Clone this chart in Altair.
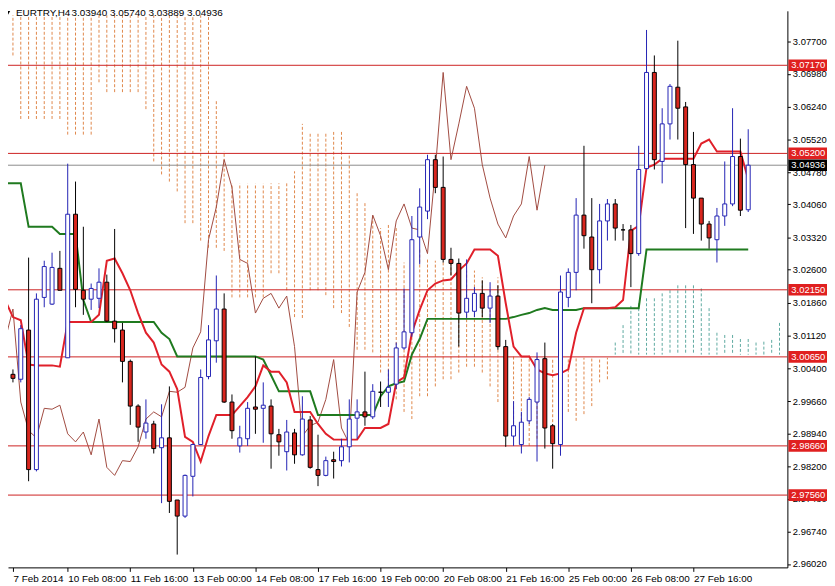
import altair as alt
import pandas as pd
import numpy as np

# ---------------- data (EURTRY H4, bar 0 = 7 Feb 2014) ----------------
opens = [3.0037, 3.0026, 3.0015, 3.0125, 2.9813, 3.0198, 3.0183, 3.0263, 3.0063, 3.0384,
         3.0214, 3.0194, 3.0196, 3.0232, 3.0145, 3.0125, 3.0055, 2.9955, 2.9897, 2.9915,
         2.9862, 2.9884, 2.9745, 2.9709, 2.9798, 2.9869, 3.0021, 3.0101, 3.0172, 2.9964,
         2.9866, 2.9882, 2.9953, 2.9950, 2.9955, 2.9891, 2.9853, 2.9895, 2.9846, 2.9924,
         2.9813, 2.9800, 2.9835, 2.9833, 2.9864, 2.9928, 2.9942, 2.9931, 2.9986, 2.9986,
         3.0004, 3.0085, 3.0119, 3.0333, 3.0391, 3.0506, 3.0444, 3.0283, 3.0274, 3.0165,
         3.0167, 3.0207, 3.0174, 3.0201, 3.0088, 2.9888, 2.9869, 2.9922, 2.9964, 3.0061,
         2.9911, 2.9869, 3.0198, 3.0254, 3.0382, 3.0333, 3.0260, 3.0369, 3.0407, 3.0349,
         3.0349, 3.0296, 3.0486, 3.0701, 3.0502, 3.0586, 3.0668, 3.0624, 3.0495, 3.0420,
         3.0362, 3.0327, 3.0380, 3.0407, 3.0513, 3.03940]
highs = [3.0052, 3.0037, 3.0136, 3.0287, 3.0207, 3.0280, 3.0298, 3.0302, 3.0497, 3.0457,
         3.0356, 3.0229, 3.0263, 3.0249, 3.0351, 3.0141, 3.0059, 2.9959, 2.9970, 2.9922,
         2.9959, 2.9999, 2.9745, 2.9802, 2.9871, 3.0037, 3.0136, 3.0247, 3.0207, 2.9981,
         2.9911, 2.9964, 3.0066, 3.0008, 2.9970, 2.9904, 2.9924, 2.9904, 2.9977, 2.9933,
         2.9891, 2.9842, 2.9853, 2.9882, 2.9970, 2.9970, 3.0032, 3.0004, 3.0010, 3.0037,
         3.0097, 3.0218, 3.0380, 3.0442, 3.0517, 3.0517, 3.0513, 3.0309, 3.0285, 3.0283,
         3.0221, 3.0236, 3.0232, 3.0225, 3.0103, 2.9966, 2.9942, 2.9975, 3.0075, 3.0097,
         2.9915, 3.0247, 3.0263, 3.0420, 3.0537, 3.0420, 3.0407, 3.0418, 3.0418, 3.0362,
         3.0360, 3.0537, 3.0796, 3.0739, 3.0621, 3.0675, 3.0772, 3.0635, 3.0568, 3.0420,
         3.0369, 3.0398, 3.0502, 3.0621, 3.0553, 3.05740]
lows = [2.9988, 3.0008, 3.0008, 2.9787, 2.9809, 3.0176, 3.0181, 3.0214, 3.0063, 3.0176,
        3.0159, 3.0170, 3.0174, 3.0143, 3.0097, 3.0008, 2.9913, 2.9875, 2.9882, 2.9849,
        2.9738, 2.9716, 2.9623, 2.9705, 2.9753, 2.9869, 3.0015, 3.0052, 2.9962, 2.9882,
        2.9851, 2.9866, 2.9893, 2.9873, 2.9815, 2.9844, 2.9811, 2.9826, 2.9844, 2.9815,
        2.9776, 2.9798, 2.9793, 2.9820, 2.9829, 2.9882, 2.9911, 2.9926, 2.9953, 2.9953,
        2.9993, 3.0081, 3.0110, 3.0272, 3.0373, 3.0431, 3.0276, 3.0247, 3.0088, 3.0152,
        3.0154, 3.0154, 3.0141, 3.0081, 2.9864, 2.9866, 2.9849, 2.9915, 2.9831, 2.9860,
        2.9815, 2.9844, 3.0176, 3.0214, 3.0307, 3.0185, 3.0229, 3.0325, 3.0325, 3.0325,
        3.0221, 3.0291, 3.0484, 3.0484, 3.0453, 3.0551, 3.0551, 3.0353, 3.0340, 3.0325,
        3.0307, 3.0276, 3.0358, 3.0402, 3.0380, 3.03889]
closes = [3.0021, 3.0017, 3.0128, 2.9813, 3.0194, 3.0267, 3.0265, 3.0214, 3.0384, 3.0216,
          3.0194, 3.0218, 3.0232, 3.0145, 3.0128, 3.0055, 2.9955, 2.9908, 2.9917, 2.9860,
          2.9884, 2.9742, 2.9709, 2.9800, 2.9869, 3.0019, 3.0103, 3.0172, 2.9964, 2.9900,
          2.9884, 2.9950, 2.9948, 2.9957, 2.9893, 2.9875, 2.9897, 2.9846, 2.9926, 2.9818,
          2.9800, 2.9833, 2.9831, 2.9864, 2.9926, 2.9942, 2.9931, 2.9988, 2.9986, 2.9997,
          3.0085, 3.0121, 3.0327, 3.0400, 3.0506, 3.0444, 3.0283, 3.0274, 3.0163, 3.0196,
          3.0207, 3.0174, 3.0201, 3.0088, 2.9888, 2.9911, 2.9919, 2.9970, 3.0059, 2.9906,
          2.9871, 3.0210, 3.0254, 3.0382, 3.0336, 3.0260, 3.0369, 3.0407, 3.0353, 3.0349,
          3.0296, 3.0484, 3.0701, 3.0506, 3.0586, 3.0670, 3.0621, 3.0495, 3.0420, 3.0362,
          3.0331, 3.0380, 3.0407, 3.0513, 3.0393, 3.04936]

tenkan = [3.0192, 3.0154, 3.0147, 3.0048, 3.0046, 3.0046, 3.0046, 3.0043, 3.0143, 3.0143,
          3.0143, 3.0143, 3.0159, 3.0280, 3.0285, 3.0252, 3.0214, 3.0163, 3.0119, 3.0097,
          3.0048, 3.0032, 2.9993, 2.9886, 2.9875, 2.9831, 2.9888, 2.9935, 2.9935, 2.9935,
          2.9955, 2.9975, 2.9999, 3.0046, 3.0032, 3.0032, 3.0008, 2.9942, 2.9942, 2.9942,
          2.9915, 2.9893, 2.9880, 2.9880, 2.9880, 2.9880, 2.9906, 2.9906, 2.9906, 2.9915,
          3.0008, 3.0019, 3.0119, 3.0170, 3.0214, 3.0229, 3.0236, 3.0238, 3.0258, 3.0274,
          3.0305, 3.0305, 3.0305, 3.0291, 3.0185, 3.0088, 3.0066, 3.0066, 3.0037, 3.0028,
          3.0024, 3.0028, 3.0037, 3.0119, 3.0174, 3.0174, 3.0174, 3.0174, 3.0176, 3.0192,
          3.0347, 3.0358, 3.0488, 3.0495, 3.0508, 3.0508, 3.0508, 3.0508, 3.0508, 3.0542,
          3.0551, 3.0524, 3.0524, 3.0524, 3.0524, 3.0462]
kijun = ([3.0453] * 3 + [3.0356] * 4 + [3.0340] * 3 + [3.0192] + [3.0143] * 9 +
         [3.0119, 3.0105] + [3.0066] * 11 + [3.0059, 3.0024] + [2.9988] * 5 +
         [2.9935] * 8 + [2.9977, 2.9999, 3.0006, 3.0010, 3.0070, 3.0105] + [3.0150] * 11 +
         [3.0154, 3.0159, 3.0163, 3.0170, 3.0174] + [3.0170] * 4 + [3.0174] * 8 + [3.0305] * 14)

span_a = ([3.0739, 3.0739] + [3.0597] * 6 + [3.0562] * 4 + [3.0679] + [3.0657] * 5 +
          [3.0619, 3.0502, 3.0473, 3.0457, 3.0435, 3.0364, 3.0364, 3.0325, 3.0309, 3.0309, 3.0302] +
          [3.0198] * 5 +
          [3.0252, 3.0252, 3.0214, 3.0154, 3.0152, 3.0214, 3.0214, 3.0203, 3.0174, 3.0163,
           3.0132, 3.0081, 3.0081, 3.0075, 3.0030, 2.9999] +
          [2.9970, 2.9942, 2.9926, 2.9977, 2.9977, 2.9999, 3.0015, 3.0015, 3.0030, 3.0043,
           3.0043, 3.0030, 2.9999, 2.9964, 2.9926, 2.9904, 2.9866, 2.9866, 2.9882, 2.9904,
           2.9919, 2.9919, 2.9942, 2.9922, 2.9937, 2.9955, 3.0008, 3.0015] +
          [3.0097, 3.0136, 3.0179, 3.0185, 3.0196, 3.0196, 3.0207, 3.0214, 3.0225, 3.0225,
           3.0225, 3.0218, 3.0174, 3.0119, 3.0114, 3.0114, 3.0105, 3.0105, 3.0097, 3.0099,
           3.0103, 3.0141])
span_b = ([3.0829] * 27 + [3.0639, 3.0524] + [3.0453] * 8 + [3.0480, 3.0586] + [3.0568] * 5 +
          [3.0517, 3.0435, 3.0413, 3.0384, 3.0353, 3.0362, 3.0353, 3.0276, 3.0280, 3.0309,
           3.0287, 3.0280, 3.0280, 3.0280, 3.0265, 3.0258, 3.0258, 3.0243, 3.0221, 3.0243] +
          [3.0068] * 6 + [3.0063] * 8 + [3.0070] * 22)

red_levels = [3.0717, 3.0520, 3.0215, 3.0065, 2.9866, 2.9756]
bid_price = [3.04936]

y_ticks = [3.08440, 3.07700, 3.06980, 3.06240, 3.05520, 3.04780, 3.04060, 3.03320, 3.02600,
           3.01860, 3.01120, 3.00400, 2.99660, 2.98940, 2.98200, 2.97480, 2.96740, 2.96020]
x_tick_bars = [1, 8, 16, 24, 32, 40, 48, 56, 64, 72, 80, 88]
x_tick_text = ["7 Feb 2014", "10 Feb 08:00", "11 Feb 16:00", "13 Feb 00:00", "14 Feb 08:00",
               "17 Feb 16:00", "19 Feb 00:00", "20 Feb 08:00", "21 Feb 16:00", "25 Feb 00:00",
               "26 Feb 08:00", "27 Feb 16:00"]
header_symbol = "EURTRY,H4"
header_ohlc = "3.03940 3.05740 3.03889 3.04936"

# ---------------- frames ----------------
n = len(closes)
bars = pd.DataFrame({"i": range(n), "open": opens, "high": highs, "low": lows, "close": closes})
bars["dir"] = np.where(bars["close"] > bars["open"], "up",
                       np.where(bars["close"] < bars["open"], "down", "flat"))
lines = pd.DataFrame({"i": range(n), "tenkan": tenkan, "kijun": kijun})
chikou = pd.DataFrame({"i": range(n - 26), "chikou": closes[26:]})
cloud = pd.DataFrame({"i": range(len(span_a)), "a": span_a, "b": span_b})
cloud["kind"] = np.where(cloud["b"] > cloud["a"], "bear", "bull")
levels = pd.DataFrame({"price": red_levels})
bid = pd.DataFrame({"price": bid_price})
header = pd.DataFrame({"sym": [header_symbol], "ohlc": [header_ohlc]})

W, H = 787, 562
FONT = "Liberation Sans"
FS = 9.5

label_map = "{" + ",".join(f"'{v}':'{t}'" for v, t in zip(x_tick_bars, x_tick_text)) + "}"
xaxis = alt.Axis(values=x_tick_bars, labelExpr=f"{label_map}[datum.value]", labelAlign="left",
                 labelFont=FONT, labelFontSize=10, labelColor="black",
                 tickColor="black", tickSize=4, domainColor="black", grid=False,
                 labelPadding=2, labelFlush=False, labelOverlap=False, title=None)
yaxis = alt.Axis(orient="right", values=y_ticks, format=".5f", labelFont=FONT, labelFontSize=FS,
                 labelColor="black", tickColor="black", tickSize=3, domainColor="black",
                 grid=False, labelPadding=2, labelFlush=False, labelOverlap=False, title=None)
xscale = alt.Scale(domain=[1, 99.375], nice=False, zero=False)
yscale = alt.Scale(domain=[2.959433, 3.083879], nice=False, zero=False)


def X(f="i"):
    return alt.X(f, type="quantitative", scale=xscale, axis=xaxis)


def Y(f):
    return alt.Y(f, type="quantitative", scale=yscale, axis=yaxis)


cloud_layer = alt.Chart(cloud).mark_rule(strokeWidth=1, strokeDash=[3, 2], clip=True).encode(
    x=X(), y=Y("a"), y2="b",
    color=alt.Color("kind:N", scale=alt.Scale(domain=["bear", "bull"], range=["#E0874A", "#5DA9A0"]),
                    legend=None))

level_layer = alt.Chart(levels).mark_rule(color="#CC2020", strokeWidth=1).encode(
    y=Y("price"), x=alt.value(0), x2=alt.value(W))
bid_layer = alt.Chart(bid).mark_rule(color="#8C8C8C", strokeWidth=1).encode(
    y=Y("price"), x=alt.value(0), x2=alt.value(W))

chikou_layer = alt.Chart(chikou).mark_line(color="#A04A40", strokeWidth=1, clip=True).encode(
    x=X(), y=Y("chikou"))
kijun_layer = alt.Chart(lines).mark_line(color="#1F7A1F", strokeWidth=2, clip=True).encode(
    x=X(), y=Y("kijun"))
tenkan_layer = alt.Chart(lines).mark_line(color="#E0202A", strokeWidth=2, clip=True).encode(
    x=X(), y=Y("tenkan"))

dir_scale = alt.Scale(domain=["up", "down", "flat"], range=["#2222B4", "#000000", "#000000"])
wick_layer = alt.Chart(bars).mark_rule(strokeWidth=1, clip=True).encode(
    x=X(), y=Y("low"), y2="high", stroke=alt.Stroke("dir:N", scale=dir_scale, legend=None))
body_layer = alt.Chart(bars).mark_bar(width=4, strokeWidth=1, clip=True).encode(
    x=X(), y=Y("open"), y2="close",
    fill=alt.Fill("dir:N", scale=alt.Scale(domain=["up", "down", "flat"],
                                          range=["#FFFFFF", "#D8261E", "#000000"]), legend=None),
    stroke=alt.Stroke("dir:N", scale=dir_scale, legend=None))

box_shape = "M-1,-0.3L1,-0.3L1,0.3L-1,0.3Z"
level_box = alt.Chart(levels).mark_point(shape=box_shape, size=1521, filled=True, opacity=1,
                                         color="#E02020").encode(
    y=Y("price"), x=alt.value(W + 20.5))
level_txt = alt.Chart(levels).mark_text(align="left", baseline="middle", font=FONT, fontSize=FS,
                                        color="white").encode(
    y=Y("price"), x=alt.value(W + 4), text=alt.Text("price:Q", format=".5f"))
bid_box = alt.Chart(bid).mark_point(shape=box_shape, size=1521, filled=True, opacity=1,
                                    color="#000000").encode(
    y=Y("price"), x=alt.value(W + 20.5))
bid_txt = alt.Chart(bid).mark_text(align="left", baseline="middle", font=FONT, fontSize=FS,
                                   color="white").encode(
    y=Y("price"), x=alt.value(W + 4), text=alt.Text("price:Q", format=".5f"))

hdr_tri = alt.Chart(header).mark_point(shape="triangle-down", size=20, filled=True, opacity=1,
                                       color="black").encode(x=alt.value(0), y=alt.value(2))
hdr_sym = alt.Chart(header).mark_text(align="left", baseline="middle", font=FONT, fontSize=10,
                                      color="black").encode(
    x=alt.value(8), y=alt.value(2), text="sym:N")
hdr_ohlc = alt.Chart(header).mark_text(align="left", baseline="middle", font=FONT, fontSize=10,
                                       color="black").encode(
    x=alt.value(64), y=alt.value(2), text="ohlc:N")

chart = alt.layer(
    cloud_layer, level_layer, bid_layer, chikou_layer, kijun_layer, tenkan_layer,
    wick_layer, body_layer, level_box, level_txt, bid_box, bid_txt, hdr_tri, hdr_sym, hdr_ohlc
).properties(
    width=W, height=H,
    autosize=alt.AutoSizeParams(type="none"),
    padding={"left": 0, "top": 0, "right": 40, "bottom": 22},
    background="white",
).configure_view(strokeWidth=0)

chart.save("out.html", embed_options={"renderer": "svg", "actions": False})
